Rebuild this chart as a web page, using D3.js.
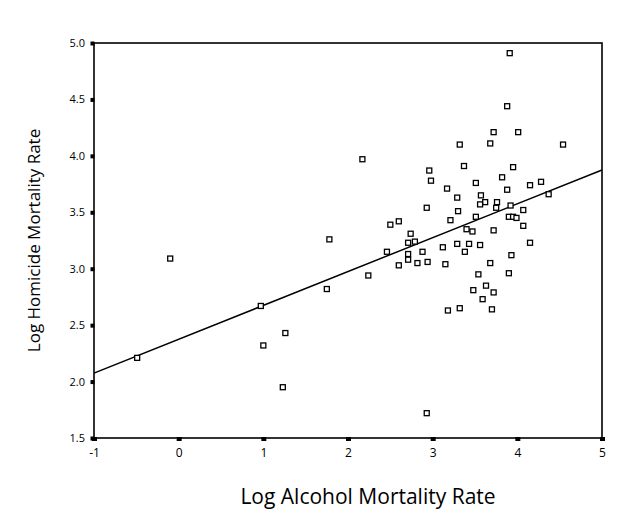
<!DOCTYPE html>
<html>
<head>
<meta charset="utf-8">
<script src="https://cdn.jsdelivr.net/npm/d3@7/dist/d3.min.js"></script>
<style>
  html, body { margin: 0; padding: 0; background: #fff; }
  svg { display: block; }
</style>
</head>
<body>
<svg id="chart" width="640" height="532"></svg>
<script>
// Data
const alcohol = [3.91,3.88,3.72,4.01,3.32,3.68,4.54,2.17,2.96,3.37,3.95,2.98,3.82,3.51,4.15,4.28,3.17,3.88,4.37,3.57,
  3.29,3.62,3.76,3.56,3.92,3.75,2.93,4.07,3.30,3.51,3.90,3.95,3.99,3.21,2.60,2.50,4.07,3.40,3.47,3.72,
  2.74,1.78,2.71,2.79,3.29,3.43,3.56,4.15,3.12,2.46,2.88,3.38,2.71,2.71,2.94,2.82,2.60,3.15,3.68,3.93,
  2.24,3.54,3.90,1.75,3.63,3.48,3.72,3.59,3.18,3.32,3.70,2.93,-0.10,0.97,-0.49,1.26,1.00,1.23];
const homicide = [4.91,4.44,4.21,4.21,4.10,4.11,4.10,3.97,3.87,3.91,3.90,3.78,3.81,3.76,3.74,3.77,3.71,3.70,3.66,3.65,
  3.63,3.59,3.59,3.57,3.56,3.54,3.54,3.52,3.51,3.46,3.46,3.46,3.45,3.43,3.42,3.39,3.38,3.35,3.33,3.34,
  3.31,3.26,3.23,3.24,3.22,3.22,3.21,3.23,3.19,3.15,3.15,3.15,3.13,3.08,3.06,3.05,3.03,3.04,3.05,3.12,
  2.94,2.95,2.96,2.82,2.85,2.81,2.79,2.73,2.63,2.65,2.64,1.72,3.09,2.67,2.21,2.43,2.32,1.95];
const fitX = [-1, 5];
const fitY = [2.075, 3.875];
const xTicks = [-1, 0, 1, 2, 3, 4, 5];
const yTicks = [1.5, 2.0, 2.5, 3.0, 3.5, 4.0, 4.5, 5.0];
const xTitle = "Log Alcohol Mortality Rate";
const yTitle = "Log Homicide Mortality Rate";

const svg = d3.select("#chart");
const L = 94, R = 602, T = 43, B = 438;
const x = d3.scaleLinear().domain([-1, 5]).range([L, R]);
const y = d3.scaleLinear().domain([1.5, 5.0]).range([B, T]);
const font = "'Open Sans', 'Liberation Sans', sans-serif";

// frame
svg.append("rect")
  .attr("x", L).attr("y", T).attr("width", R - L).attr("height", B - T)
  .attr("fill", "none").attr("stroke", "#000").attr("stroke-width", 1.6);

// y axis ticks (square markers) and labels
const yAxis = d3.axisLeft(y).tickValues(yTicks).tickFormat(d3.format(".1f")).tickSize(0).tickPadding(9);
const gy = svg.append("g").attr("transform", `translate(${L},0)`).call(yAxis);
gy.select(".domain").remove();
gy.selectAll(".tick text").attr("font-family", font).attr("font-size", 11).attr("fill", "#000");
gy.selectAll(".tick").append("rect")
  .attr("x", -3.5).attr("y", -2).attr("width", 4).attr("height", 4).attr("fill", "#000");

// x axis ticks and labels
const xAxis = d3.axisBottom(x).tickValues(xTicks).tickFormat(d3.format("d")).tickSize(0).tickPadding(10);
const gx = svg.append("g").attr("transform", `translate(0,${B})`).call(xAxis);
gx.select(".domain").remove();
gx.selectAll(".tick text").attr("font-family", font).attr("font-size", 12).attr("fill", "#000")
  .text(d => d < 0 ? "-" + Math.abs(d) : d);
gx.selectAll(".tick").append("rect")
  .attr("x", -2.5).attr("y", -1).attr("width", 5).attr("height", 4).attr("fill", "#000");

// regression line
svg.append("line")
  .attr("x1", x(fitX[0])).attr("y1", y(fitY[0]))
  .attr("x2", x(fitX[1])).attr("y2", y(fitY[1]))
  .attr("stroke", "#000").attr("stroke-width", 1.5);

// points
const pts = alcohol.map((a, i) => ({a, h: homicide[i]}));
svg.append("g").selectAll("rect").data(pts).join("rect")
  .attr("x", d => x(d.a) - 2.5).attr("y", d => y(d.h) - 2.5)
  .attr("width", 5).attr("height", 5)
  .attr("fill", "#fff").attr("stroke", "#000").attr("stroke-width", 1.3);

// axis titles
svg.append("text")
  .attr("x", 368).attr("y", 504)
  .attr("text-anchor", "middle").attr("font-family", font).attr("font-size", 21).attr("fill", "#000")
  .text(xTitle);
svg.append("text")
  .attr("transform", `translate(40,${(T + B) / 2}) rotate(-90)`)
  .attr("text-anchor", "middle").attr("font-family", font).attr("font-size", 17).attr("fill", "#000")
  .text(yTitle);
</script>
</body>
</html>
